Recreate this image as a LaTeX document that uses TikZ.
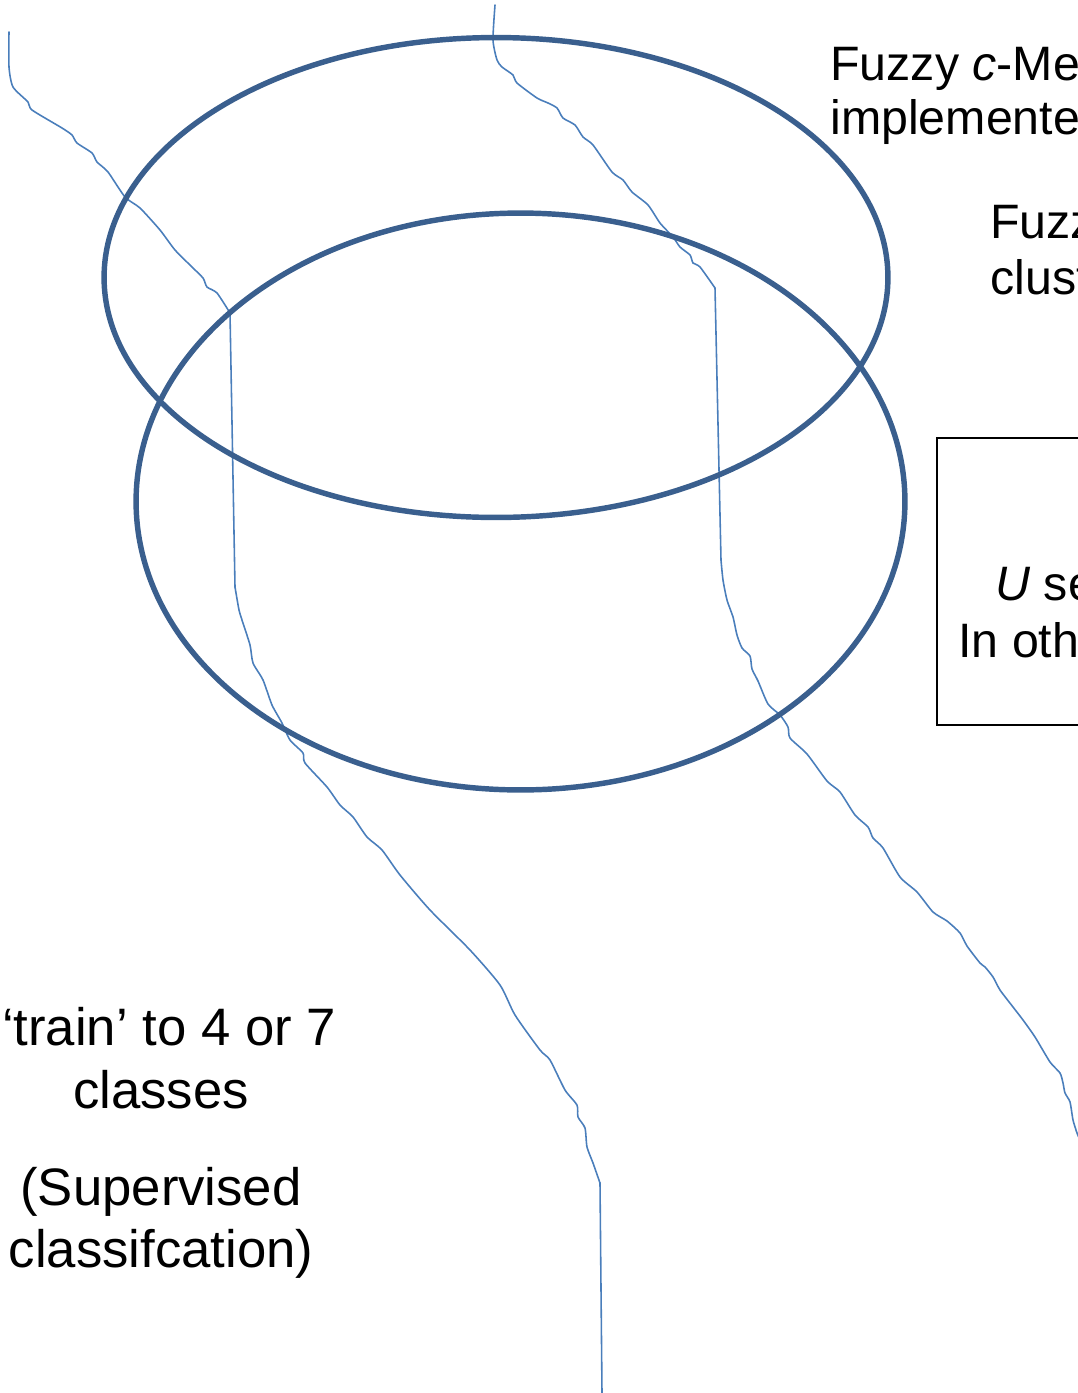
\documentclass[tikz,border=0pt]{standalone}
\usepackage{fontspec}
\setmainfont{Liberation Sans}
\definecolor{ringblue}{HTML}{3A5F8E}
\definecolor{wireblue}{HTML}{4A7EBB}
\begin{document}
\begin{tikzpicture}[x=0.02cm,y=-0.02cm,
  ring/.style={draw=ringblue,line width=3.1pt},
  wire/.style={draw=wireblue,line width=0.9pt,line join=round,line cap=round},
  lbl/.style={anchor=base west,inner sep=0pt,font=\fontsize{27.5}{32}\selectfont},
  clbl/.style={anchor=base,inner sep=0pt,font=\fontsize{30}{36}\selectfont},
  frame/.style={draw=black,line width=1.1pt}]
\useasboundingbox (0,0) rectangle (1078,1393);
\clip (0,0) rectangle (1078,1393);
% hand-drawn wires
\draw[wire] plot[smooth,tension=0.4] coordinates {
 (9,32) (9,67) (13,87) (28,102) (32,110) (62,128) (72,135) (77,143) (92,153)
 (97,162) (108,172) (125,197) (140,208) (160,230) (175,250) (192,267) (203,278)
 (207,287) (217,293) (230,313)};
\draw[wire] (230,313) -- (235,587);
\draw[wire] plot[smooth,tension=0.4] coordinates {
 (235,587) (239,610) (242,620) (250,645) (253,663) (263,680) (272,705) (282,723)
 (290,740) (303,753) (305,763) (327,787) (340,805) (353,817) (367,837) (382,850)
 (400,875) (430,910) (470,950) (500,985) (515,1015) (540,1050) (550,1060)
 (565,1090) (577,1105) (578,1117) (585,1128) (587,1147) (593,1163) (600,1183)};
\draw[wire] (600,1183) -- (602,1393);
\draw[wire] plot[smooth,tension=0.4] coordinates {
 (495,5) (493,40) (497,60) (502,67) (513,75) (517,83) (537,98) (548,103) (557,108)
 (563,118) (575,125) (583,137) (593,145) (612,172) (623,180) (632,192) (648,205)
 (660,223) (673,237) (680,247) (690,255) (693,263) (700,267) (715,288)};
\draw[wire] (715,288) -- (721,560);
\draw[wire] plot[smooth,tension=0.4] coordinates {
 (721,560) (723,580) (727,600) (733,617) (737,635) (742,648) (750,656) (752,669)
 (758,681) (768,704) (780,715) (788,727) (790,738) (807,754) (827,781) (840,792)
 (855,815) (868,827) (873,838) (883,848) (900,877) (917,892) (933,912) (947,921)
 (960,933) (967,946) (980,963) (985,967) (993,977) (1000,990) (1013,1007)
 (1023,1020) (1035,1037) (1050,1062) (1060,1073) (1063,1083) (1065,1093)
 (1070,1102) (1073,1120) (1077,1133) (1080,1140)};
% ellipses
\draw[ring] (496,277.5) ellipse [x radius=7.84cm, y radius=4.8cm];
\draw[ring] (520.5,501.5) ellipse [x radius=7.69cm, y radius=5.77cm];
% box on the right
\draw[frame] (937,438) rectangle (1120,725);
% texts
\node[lbl] (fcm1) at (830,80) {Fuzzy \textit{c}-Means};
\node[lbl] (fcm2) at (830,134) {implemented};
\node[lbl] (fz1) at (990,238) {Fuzzy};
\node[lbl] (fz2) at (990,294) {clustering};
\node[lbl] (u1) at (995,600) {\textit{U} sets};
\node[lbl] (u2) at (958,657) {In other};
\node[clbl] (t1) at (169,1045) {‘train’ to 4 or 7};
\node[clbl] (t2) at (161,1108) {classes};
\node[clbl] (t3) at (161,1205) {(Supervised};
\node[clbl] (t4) at (161,1267) {classifcation)};
\end{tikzpicture}
\end{document}
